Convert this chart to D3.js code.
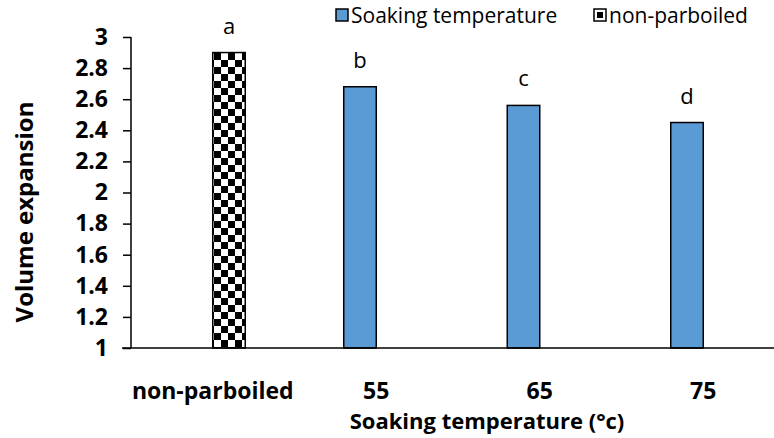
<!DOCTYPE html>
<html><head><meta charset="utf-8">
<script src="https://cdn.jsdelivr.net/npm/d3@7"></script>
<style>body{margin:0;background:#fff}svg{display:block}</style>
</head><body>
<script>
const categories = ["non-parboiled", "55", "65", "75"];
const seriesNames = ["Soaking temperature", "non-parboiled"];
const soakingValues = [null, 2.68, 2.56, 2.45];
const nonParboiledValues = [2.90, null, null, null];
const letters = ["a", "b", "c", "d"];
const yTicks = [1, 1.2, 1.4, 1.6, 1.8, 2, 2.2, 2.4, 2.6, 2.8, 3];

const W = 774, H = 438;
const font = "'Open Sans', sans-serif";
const svg = d3.select("body").append("svg").attr("width", W).attr("height", H);

const defs = svg.append("defs");
const pat = defs.append("pattern").attr("id", "checker").attr("patternUnits", "userSpaceOnUse")
  .attr("width", 14).attr("height", 14).attr("x", 214).attr("y", 53);
pat.append("rect").attr("width", 14).attr("height", 14).attr("fill", "#fff");
pat.append("rect").attr("width", 7).attr("height", 7).attr("fill", "#000");
pat.append("rect").attr("x", 7).attr("y", 7).attr("width", 7).attr("height", 7).attr("fill", "#000");

const x0 = d3.scaleBand().domain(categories).range([131, 785]).padding(0);
const barW = 32.5;
const x1 = d3.scaleBand().domain(seriesNames)
  .range([x0.bandwidth() / 2 - barW, x0.bandwidth() / 2 + barW]).padding(0);
const y = d3.scaleLinear().domain([1, 3]).range([348, 37]);

const fills = {"Soaking temperature": "#5b9bd5", "non-parboiled": "url(#checker)"};

const data = [];
categories.forEach((c, i) => {
  if (soakingValues[i] != null) data.push({c, s: seriesNames[0], v: soakingValues[i], l: letters[i]});
  if (nonParboiledValues[i] != null) data.push({c, s: seriesNames[1], v: nonParboiledValues[i], l: letters[i]});
});
svg.append("g").selectAll("rect").data(data).join("rect")
  .attr("x", d => x0(d.c) + x1(d.s))
  .attr("width", x1.bandwidth())
  .attr("y", d => y(d.v))
  .attr("height", d => y(1) - y(d.v))
  .attr("fill", d => fills[d.s])
  .attr("stroke", "#000").attr("stroke-width", 1.5);

svg.append("g").selectAll("text").data(data).join("text")
  .attr("x", d => x0(d.c) + x1(d.s) + x1.bandwidth() / 2)
  .attr("y", d => y(d.v) - 19)
  .attr("text-anchor", "middle")
  .attr("font-family", font).attr("font-size", 22).attr("fill", "#000")
  .text(d => d.l);

// y axis
const yAxis = svg.append("g").attr("transform", "translate(131,0)")
  .call(d3.axisLeft(y).tickValues(yTicks).tickSize(8).tickPadding(15).tickFormat(d3.format("")));
yAxis.select(".domain").attr("d", "M0,37V348").attr("stroke", "#000").attr("stroke-width", 1.5);
yAxis.selectAll(".tick line").attr("stroke", "#000").attr("stroke-width", 1.5);
yAxis.selectAll(".tick text").attr("font-family", font).attr("font-weight", "bold")
  .attr("font-size", 23).attr("fill", "#000");

// x axis
const xAxis = svg.append("g").attr("transform", "translate(0,348)")
  .call(d3.axisBottom(x0).tickSize(0).tickPadding(35));
xAxis.select(".domain").attr("d", "M122,0H785").attr("stroke", "#000").attr("stroke-width", 1.5);
xAxis.selectAll(".tick text").attr("font-family", font).attr("font-weight", "bold")
  .attr("font-size", 23).attr("fill", "#000");

// axis titles
svg.append("text").attr("x", 487).attr("y", 429).attr("text-anchor", "middle")
  .attr("font-family", font).attr("font-weight", "bold").attr("font-size", 22).attr("fill", "#000")
  .text("Soaking temperature (°c)");
svg.append("text").attr("transform", "translate(33,212) rotate(-90)").attr("text-anchor", "middle")
  .attr("font-family", font).attr("font-weight", "bold").attr("font-size", 24).attr("fill", "#000")
  .text("Volume expansion");

// legend
const legendX = [336, 594];
const lg = svg.append("g").selectAll("g").data(seriesNames).join("g")
  .attr("transform", (d, i) => `translate(${legendX[i]},0)`);
lg.append("rect").attr("x", 0).attr("y", 9).attr("width", 12).attr("height", 12)
  .attr("fill", d => d === "non-parboiled" ? "#fff" : fills[d]).attr("stroke", "#000").attr("stroke-width", 1.5);
lg.filter(d => d === "non-parboiled").append("rect").attr("x", 3).attr("y", 12).attr("width", 6).attr("height", 6).attr("fill", "#000");
lg.append("text").attr("x", 15).attr("y", 23).attr("font-family", font).attr("font-size", 21).attr("fill", "#000")
  .text(d => d);
</script>
</body></html>
